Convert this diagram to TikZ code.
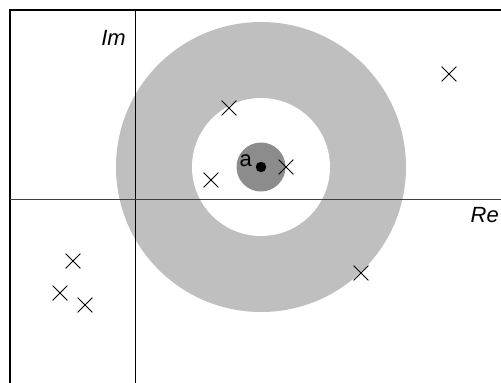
\documentclass[tikz,border=0pt]{standalone}
\usepackage{fontspec}
\setmainfont{Liberation Sans}
\usetikzlibrary{
  positioning,
  shapes.misc
}

\definecolor{ringgray}{gray}{0.75}
\definecolor{discgray}{gray}{0.55}

\begin{document}
\begin{tikzpicture}[
    x=1pt, y=-1pt,
    polo/.style={cross out, draw, line width=0.8pt, minimum size=14pt, inner sep=0pt},
    ponto/.style={circle, fill, minimum size=10.5pt, inner sep=0pt},
    rotulo/.style={inner sep=0pt, font=\fontsize{22}{26}\selectfont}
    ]
    
    \useasboundingbox (0,0) rectangle (501,383);
    \clip (0,0) rectangle (501,383);
    
    % moldura
    \draw[line width=1.5pt] (10,400) -- (10,10) -- (520,10);
    
    % coroa e disco
    \coordinate (c) at (261,167);
    \fill[ringgray] (c) circle (145pt);
    \fill[white] (c) circle (69pt);
    \fill[discgray] (c) circle (24.5pt);
    
    % eixos
    \coordinate (o) at (135,199);
    \coordinate (imtop) at (135,10);
    \coordinate (imbot) at (135,383);
    \coordinate (releft) at (10,199);
    \coordinate (reright) at (501,199);
    \draw[line width=0.9pt] (imbot) -- (imtop);
    \draw[line width=0.8pt, black!75] (releft) -- (reright);
    
    \node[rotulo, anchor=base east] (im) at (126,45) {\itshape Im};
    \node[rotulo, anchor=base east] (re) at (499,222) {\itshape Re};
    
    % ponto a
    \node[ponto] (a) at (c) {};
    \node[rotulo, anchor=base east] (alab) at (252,166) {a};
    
    % polos
    \node[polo] (p1) at (229,108) {};
    \node[polo] (p2) at (211,180) {};
    \node[polo] (p3) at (286,167) {};
    \node[polo] (p4) at (449,74) {};
    \node[polo] (p5) at (361,273) {};
    \node[polo] (p6) at (73,261) {};
    \node[polo] (p7) at (60,293) {};
    \node[polo] (p8) at (85,305) {};
    
\end{tikzpicture}
\end{document}
